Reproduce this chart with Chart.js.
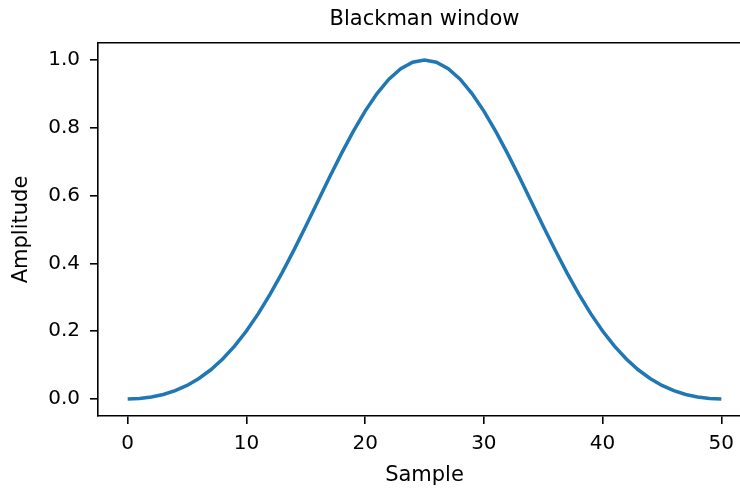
<!DOCTYPE html>
<html>
<head>
    <title>Blackman window</title>
    <meta charset="utf-8"/>
    <script src="https://cdn.jsdelivr.net/npm/chart.js@4"></script>
    <style>
        html, body { margin: 0; background: #fff; overflow: hidden; }
        .frame { width: 740px; height: 491px; overflow: hidden; }
        /* axes run a little past the right edge, as in the reference */
        .chart-container { position: relative; width: 760px; height: 491px; }
    </style>
</head>

<body>
    <div class="frame">
        <div class="chart-container">
            <canvas id="windowChart"></canvas>
        </div>
    </div>
    <script>
        // sample index, 0..50
        const samples = [
            0, 1, 2, 3, 4, 5, 6, 7, 8, 9,
            10, 11, 12, 13, 14, 15, 16, 17, 18, 19,
            20, 21, 22, 23, 24, 25, 26, 27, 28, 29,
            30, 31, 32, 33, 34, 35, 36, 37, 38, 39,
            40, 41, 42, 43, 44, 45, 46, 47, 48, 49, 50
        ];

        // window amplitude
        const amplitude = [
            0.0000, 0.0014, 0.0058, 0.0134, 0.0247, 0.0402, 0.0605, 0.0863, 0.1180, 0.1561,
            0.2008, 0.2519, 0.3092, 0.3720, 0.4393, 0.5098, 0.5819, 0.6539, 0.7237, 0.7895,
            0.8492, 0.9010, 0.9432, 0.9744, 0.9935, 1.0000, 0.9935, 0.9744, 0.9432, 0.9010,
            0.8492, 0.7895, 0.7237, 0.6539, 0.5819, 0.5098, 0.4393, 0.3720, 0.3092, 0.2519,
            0.2008, 0.1561, 0.1180, 0.0863, 0.0605, 0.0402, 0.0247, 0.0134, 0.0058, 0.0014, 0.0000
        ];

        const xTicks = [0, 10, 20, 30, 40, 50];
        const yTicks = [0.0, 0.2, 0.4, 0.6, 0.8, 1.0];

        Chart.defaults.font.family = "'DejaVu Sans', sans-serif";
        Chart.defaults.color = '#000';

        const points = samples.map((s, i) => ({x: s, y: amplitude[i]}));

        const axisBorder = {display: true, color: '#000', width: 1.6};
        const tickGrid = {
            drawOnChartArea: false,
            drawTicks: true,
            tickLength: 8,
            color: '#000',
            lineWidth: 1.6
        };

        const config = {
            type: 'line',
            data: {
                datasets: [{
                    label: 'Blackman',
                    data: points,
                    borderColor: '#1f77b4',
                    backgroundColor: '#1f77b4',
                    borderWidth: 3.5,
                    pointRadius: 0,
                    tension: 0,
                    fill: false
                }]
            },
            options: {
                responsive: true,
                maintainAspectRatio: false,
                animation: false,
                layout: {padding: {top: 0, left: 0, bottom: 0, right: 9}},
                plugins: {
                    legend: {display: false},
                    tooltip: {enabled: false}
                },
                scales: {
                    x: {
                        type: 'linear',
                        position: 'bottom',
                        min: -2.5,
                        max: 52.5,
                        afterBuildTicks: (scale) => {
                            scale.ticks = xTicks.map(v => ({value: v}));
                        },
                        afterFit: (scale) => { scale.height = 75; },
                        ticks: {
                            font: {size: 20},
                            padding: 8,
                            maxRotation: 0,
                            callback: (v) => String(v)
                        },
                        grid: tickGrid,
                        border: axisBorder,
                        title: {
                            display: true,
                            text: 'Sample',
                            font: {size: 21},
                            padding: {top: 0, bottom: 3}
                        }
                    },
                    // top spine, carries the title centred over the axes
                    top: {
                        type: 'linear',
                        position: 'top',
                        min: -2.5,
                        max: 52.5,
                        afterFit: (scale) => { scale.height = 43; },
                        ticks: {display: false},
                        grid: {display: false},
                        border: axisBorder,
                        title: {
                            display: true,
                            text: 'Blackman window',
                            font: {size: 21},
                            padding: {top: 7, bottom: 0}
                        }
                    },
                    y: {
                        type: 'linear',
                        position: 'left',
                        min: -0.05,
                        max: 1.05,
                        afterBuildTicks: (scale) => {
                            scale.ticks = yTicks.map(v => ({value: v}));
                        },
                        afterFit: (scale) => { scale.width = 98; },
                        ticks: {
                            font: {size: 20},
                            padding: 10,
                            callback: (v) => Number(v).toFixed(1)
                        },
                        grid: tickGrid,
                        border: axisBorder,
                        title: {
                            display: true,
                            text: 'Amplitude',
                            font: {size: 21},
                            padding: {top: 9, bottom: 0}
                        }
                    }
                }
            }
        };

        const windowChart = new Chart(
            document.getElementById('windowChart'),
            config
        );
    </script>
</body>
</html>
